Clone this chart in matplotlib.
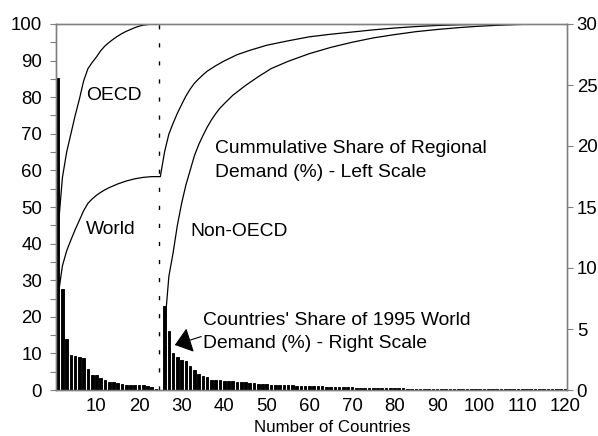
import numpy as np
import matplotlib
matplotlib.use("Agg")
import matplotlib.pyplot as plt

plt.rcParams['font.family'] = ['Liberation Sans', 'DejaVu Sans']

# ---------------- data ----------------
# Countries' share of 1995 world demand (%), right scale
oecd_share = [25.6, 8.25, 4.2, 2.85, 2.8, 2.68, 2.62, 1.75, 1.22, 1.2,
              0.95, 0.8, 0.63, 0.62, 0.55, 0.53, 0.45, 0.4, 0.38, 0.38,
              0.37, 0.32, 0.22, 0.12]
gap_share = [0.0]
non_oecd_share = [6.85, 4.8, 3.0, 2.7, 2.5, 2.35, 2.0, 1.65, 1.3, 1.15,
                  1.05, 0.85, 0.8, 0.78, 0.75, 0.72, 0.7, 0.68, 0.66, 0.62,
                  0.58, 0.55, 0.52, 0.5, 0.48,
                  0.45, 0.44, 0.42, 0.4, 0.39, 0.37, 0.36, 0.35, 0.34, 0.33,
                  0.32, 0.3, 0.29, 0.28, 0.27, 0.25, 0.24, 0.23, 0.22, 0.21,
                  0.2, 0.19, 0.18, 0.17, 0.16, 0.16, 0.15, 0.15, 0.14, 0.14,
                  0.13, 0.13, 0.12, 0.12, 0.12, 0.11, 0.11, 0.1, 0.1, 0.1,
                  0.1, 0.09, 0.09, 0.09, 0.09, 0.08, 0.08, 0.08, 0.08, 0.08,
                  0.07, 0.07, 0.07, 0.07, 0.07, 0.07, 0.06, 0.06, 0.06, 0.06,
                  0.06, 0.06, 0.06, 0.05, 0.05, 0.05, 0.05, 0.05, 0.05, 0.05]
country_share = oecd_share + gap_share + non_oecd_share
country_rank = list(range(1, len(country_share) + 1))

# Cumulative share of regional demand (%), left scale
oecd_x = list(range(1, 25))
oecd_cum = [44, 58, 65, 70, 75, 79.5, 84.5, 87.8, 89.5, 91, 92.7, 94, 95,
            95.9, 96.7, 97.4, 98, 98.5, 99, 99.4, 99.7, 99.85, 99.95, 100]

world_x = list(range(1, 37)) + [38, 40, 43, 46, 50, 55, 60, 65, 70, 75,
                                80, 85, 90, 95, 100, 110, 120]
world_cum = [25.7, 33.9, 38.0, 41.0, 43.8, 46.4, 49.0, 51.0, 52.2, 53.2,
             54.0, 54.7, 55.3, 55.8, 56.3, 56.7, 57.1, 57.4, 57.7, 57.9,
             58.1, 58.2, 58.3, 58.3, 58.3,
             65.1, 69.9, 72.9, 75.6, 78.0, 80.3, 82.2, 83.8, 85.0, 86.1, 87.1,
             88.6, 89.9, 91.6, 92.8, 94.2, 95.4, 96.5, 97.2, 97.8, 98.4,
             98.9, 99.3, 99.6, 99.8, 99.9, 100, 100]

non_oecd_x = list(range(26, 41)) + [42, 45, 48, 51, 55, 60, 65, 70, 75, 80,
                                    85, 90, 95, 100, 105, 110, 115, 120]
non_oecd_cum = [17, 31, 37.5, 45, 51, 56, 60, 64, 67, 69.5, 71.8, 73.8, 75.5,
                77, 78.2, 80.5, 83.2, 85.6, 87.8, 89.8, 91.9, 93.6, 95.0,
                96.2, 97.1, 97.9, 98.5, 99.0, 99.4, 99.7, 99.9, 100, 100]

x_ticks = list(range(10, 121, 10))
left_ticks = list(range(0, 101, 10))
right_ticks = list(range(0, 31, 5))
oecd_boundary = 24.75

# ---------------- figure ----------------
fig = plt.figure(figsize=(5.98, 4.36), dpi=100)
ax = fig.add_axes([56 / 598, 1 - 390 / 436, 511 / 598, 366 / 436])
axr = ax.twinx()

gray = '#808080'

axr.bar(country_rank, country_share, width=0.62, color='black',
        edgecolor='black', linewidth=0.65, zorder=2)

ax.plot(oecd_x, oecd_cum, color='black', lw=0.9, zorder=3)
ax.plot(world_x, world_cum, color='black', lw=0.9, zorder=3)
ax.plot(non_oecd_x, non_oecd_cum, color='black', lw=0.9, zorder=3)
ax.axvline(oecd_boundary, color='black', lw=1.0, ls=(0, (3, 10)), zorder=3)

ax.set_xlim(0.5, 120.5)
ax.set_ylim(0, 100)
axr.set_ylim(0, 30)

ax.set_xticks(x_ticks)
ax.set_yticks(left_ticks)
ax.set_yticks(list(range(5, 100, 10)), minor=True)
axr.set_yticks(right_ticks)

fs_tick = 13.4
ax.tick_params(axis='x', length=0, pad=6, labelsize=fs_tick)
ax.tick_params(axis='y', which='both', length=4, color=gray, width=0.8,
               pad=6, labelsize=fs_tick)
axr.tick_params(axis='y', length=4, color=gray, width=0.8, pad=3,
                labelsize=fs_tick)

for a in (ax, axr):
    for s in a.spines.values():
        s.set_color(gray)
        s.set_linewidth(1.0)

fig.text(332 / 598, 4.0 / 436, 'Number of Countries', fontsize=12.2,
         ha='center', va='baseline')

fs_txt = 13.9
ax.text(7.62, 79.2, 'OECD', fontsize=fs_txt, ha='left', va='baseline')
ax.text(7.62, 42.6, 'World', fontsize=fs_txt, ha='left', va='baseline')
ax.text(31.97, 42.1, 'Non-OECD', fontsize=fs_txt, ha='left', va='baseline')
ax.text(37.84, 64.75, 'Cummulative Share of Regional', fontsize=fs_txt,
        ha='left', va='baseline')
ax.text(37.84, 58.2, 'Demand (%) - Left Scale', fontsize=fs_txt,
        ha='left', va='baseline')
ax.text(35.1, 17.76, "Countries' Share of 1995 World", fontsize=fs_txt,
        ha='left', va='baseline')
ax.text(35.1, 11.56, "Demand (%) - Right Scale", fontsize=fs_txt,
        ha='left', va='baseline')

ax.annotate('', xy=(28.4, 12.3), xytext=(34.6, 14.6),
            arrowprops=dict(arrowstyle='-|>,head_length=1.05,head_width=0.8',
                            mutation_scale=10, color='black', lw=0.8,
                            shrinkA=0, shrinkB=0), zorder=4)

fig.savefig('out.png', dpi=100)
